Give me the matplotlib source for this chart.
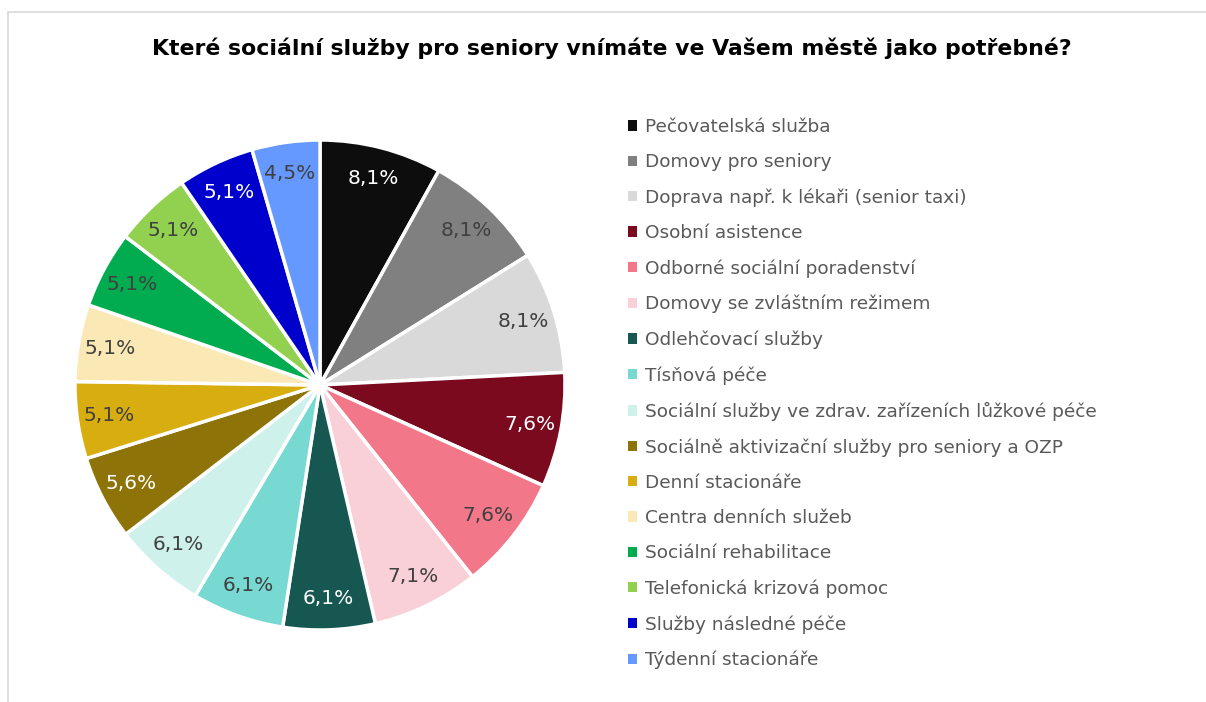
import matplotlib.pyplot as plt
from matplotlib.patches import Rectangle

# data (share of answers, %)
categories = [
    'Pečovatelská služba',
    'Domovy pro seniory',
    'Doprava např. k lékaři (senior taxi)',
    'Osobní asistence',
    'Odborné sociální poradenství',
    'Domovy se zvláštním režimem',
    'Odlehčovací služby',
    'Tísňová péče',
    'Sociální služby ve zdrav. zařízeních lůžkové péče',
    'Sociálně aktivizační služby pro seniory a OZP',
    'Denní stacionáře',
    'Centra denních služeb',
    'Sociální rehabilitace',
    'Telefonická krizová pomoc',
    'Služby následné péče',
    'Týdenní stacionáře',
]
shares = [8.1, 8.1, 8.1, 7.6, 7.6, 7.1, 6.1, 6.1, 6.1, 5.6, 5.1, 5.1, 5.1, 5.1, 5.1, 4.5]
colors = ['#0d0d0d', '#808080', '#d9d9d9', '#7b0a1e', '#f27789', '#f9d0d7',
          '#175752', '#77d9d2', '#cff1ec', '#8e7408', '#d7ad0f', '#fbe9b5',
          '#00ac4f', '#92d050', '#0000cc', '#6699ff']
white_text = ['#0d0d0d', '#7b0a1e', '#175752', '#8e7408', '#0000cc']

plt.rcParams['font.family'] = ['DejaVu Sans']

fig = plt.figure(figsize=(12.06, 7.02), dpi=100)
fig.patches.append(Rectangle((8 / 1206, -0.1), 1.2, 1 - 12 / 702 + 0.1,
                             transform=fig.transFigure, fill=False,
                             edgecolor='#d9d9d9', linewidth=1.2))

fig.text(0.507, 1 - 48 / 702, 'Které sociální služby pro seniory vnímáte ve Vašem městě jako potřebné?',
         ha='center', va='center', fontsize=15.8, fontweight='bold', color='#000000')

ax = fig.add_axes([75 / 1206, (702 - 385 - 245) / 702, 490 / 1206, 490 / 702])
labels = [f'{v:.1f}%'.replace('.', ',') for v in shares]
wedges, texts = ax.pie(shares, colors=colors, startangle=90, counterclock=False,
                       labels=labels, labeldistance=0.87,
                       wedgeprops=dict(edgecolor='white', linewidth=2.5),
                       textprops=dict(fontsize=14.5, ha='center', va='center'))
for t, c in zip(texts, colors):
    t.set_color('white' if c in white_text else '#404040')
ax.set_xlim(-1, 1)
ax.set_ylim(-1, 1)
ax.set_aspect('equal')

handles = [Rectangle((0, 0), 1, 1, facecolor=c) for c in colors]
leg = fig.legend(handles, categories, loc='upper left',
                 bbox_to_anchor=(628 / 1206, 1 - 118 / 702), frameon=False,
                 fontsize=13.3, handlelength=0.47, handleheight=0.47,
                 handletextpad=0.47, labelspacing=0.93, borderpad=0, borderaxespad=0)
for t in leg.get_texts():
    t.set_color('#595959')

fig.savefig('out.png', dpi=100)
